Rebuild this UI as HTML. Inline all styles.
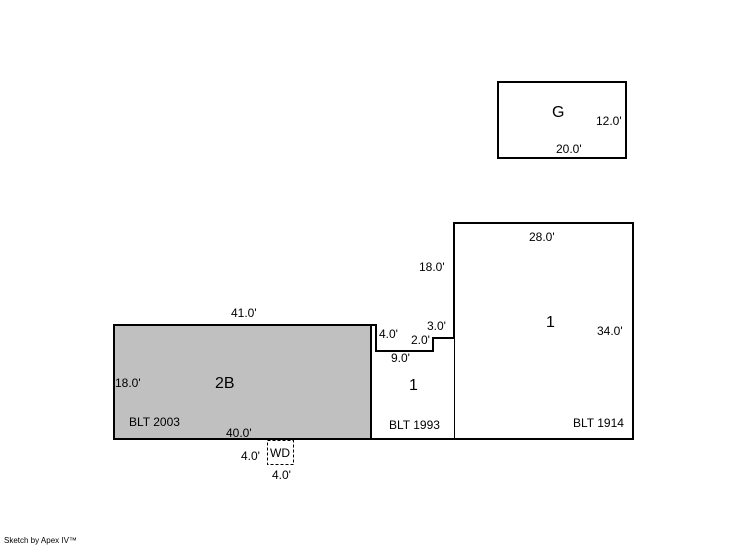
<!DOCTYPE html>
<html><head><style>
body{margin:0;background:#fff;width:746px;height:547px;overflow:hidden}
svg text{font-family:"Liberation Sans",sans-serif;font-size:12px;fill:#000}
</style></head><body>
<svg width="746" height="547" viewBox="0 0 746 547" shape-rendering="crispEdges">
<rect x="114" y="325" width="257" height="114" fill="#c0c0c0" stroke="#000" stroke-width="2"/>
<polyline points="371,325 376,325 376,351 433,351 433,338 454,338 454,223 633,223 633,439 114,439" fill="none" stroke="#000" stroke-width="2"/>
<line x1="454.5" y1="338" x2="454.5" y2="439" stroke="#000" stroke-width="1"/>
<line x1="371.5" y1="325" x2="371.5" y2="439" stroke="#000" stroke-width="1"/>
<rect x="267.5" y="440.5" width="26" height="24" fill="none" stroke="#000" stroke-dasharray="3,2"/>
<rect x="498" y="82" width="128" height="76" fill="none" stroke="#000" stroke-width="2"/>
<text x="552" y="117" style="font-size:16px">G</text>
<text x="596" y="125">12.0'</text>
<text x="556" y="153">20.0'</text>
<text x="529" y="241">28.0'</text>
<text x="419" y="271">18.0'</text>
<text x="546" y="327" style="font-size:16px">1</text>
<text x="597" y="335">34.0'</text>
<text x="427" y="330">3.0'</text>
<text x="379" y="338">4.0'</text>
<text x="411" y="344">2.0'</text>
<text x="391" y="362">9.0'</text>
<text x="231" y="317">41.0'</text>
<text x="215" y="388" style="font-size:16px">2B</text>
<text x="115" y="387">18.0'</text>
<text x="409" y="390" style="font-size:16px">1</text>
<text x="129" y="426">BLT 2003</text>
<text x="226" y="437">40.0'</text>
<text x="389" y="429">BLT 1993</text>
<text x="573" y="427">BLT 1914</text>
<text x="241" y="460">4.0'</text>
<text x="270" y="457">WD</text>
<text x="272" y="479">4.0'</text>
<text x="4" y="543" style="font-size:8px">Sketch by Apex IV™</text>
</svg>
</body></html>
